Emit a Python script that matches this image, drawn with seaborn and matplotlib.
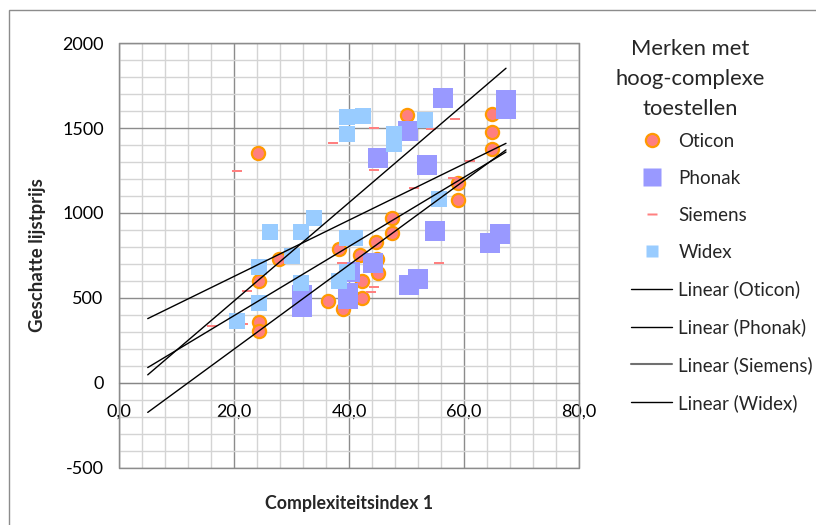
import numpy as np
import seaborn as sns
import matplotlib.pyplot as plt
from matplotlib.lines import Line2D
from matplotlib.markers import MarkerStyle
from matplotlib.path import Path
from matplotlib.patches import Rectangle
from matplotlib.ticker import FuncFormatter, MultipleLocator

# Data
oticon_x = [24.2, 24.3, 24.4, 24.4, 27.8, 36.4, 38.3, 39.0, 41.9, 42.3, 42.3,
            44.7, 44.8, 45.1, 47.4, 47.5, 50.0, 58.9, 58.9, 64.8, 64.8, 64.8]
oticon_y = [1351, 602, 355, 306, 729, 483, 785, 436, 753, 600, 498,
            831, 728, 645, 884, 970, 1578, 1178, 1076, 1582, 1478, 1380]

phonak_x = [31.9, 31.9, 39.9, 39.9, 40.2, 44.1, 45.1, 50.3, 50.5, 52.0, 53.5,
            54.9, 56.4, 64.5, 66.3, 67.3, 67.3]
phonak_y = [516, 447, 528, 492, 655, 708, 1327, 1484, 575, 610, 1282,
            892, 1680, 822, 875, 1663, 1610]

siemens_x = [16.1, 20.6, 21.5, 22.2, 37.2, 38.7, 43.8, 44.3, 44.3, 44.3, 51.3,
             54.2, 55.7, 58.1, 58.4, 61.1]
siemens_y = [335, 1249, 343, 543, 1410, 706, 537, 566, 1253, 1498, 1149,
             1496, 704, 1204, 1553, 1306]

widex_x = [20.6, 24.4, 24.4, 26.3, 30.1, 31.7, 31.7, 33.9, 38.3, 39.6, 39.6,
           41.1, 39.6, 42.4, 39.6, 47.8, 47.8, 53.2, 55.6]
widex_y = [361, 684, 472, 886, 747, 886, 586, 969, 600, 655, 851,
           851, 1567, 1572, 1463, 1463, 1406, 1547, 1081]

trend_range = [5.0, 67.3]

sns.set_style("white")
plt.rcParams['font.family'] = ['Lato', 'DejaVu Sans']
plt.rcParams['axes.unicode_minus'] = False

fig, ax = plt.subplots(figsize=(8.16, 5.25), dpi=100)
fig.subplots_adjust(left=0.1458, right=0.7096, top=0.9175, bottom=0.1095)

dash = MarkerStyle(Path([(-1, -0.33), (1, -0.33), (1, 0.33), (-1, 0.33), (-1, -0.33)]))

sns.scatterplot(x=oticon_x, y=oticon_y, ax=ax, marker='o', s=90, color='#FF7F7F',
                edgecolor='#FF9900', linewidth=1.6, zorder=3)
sns.scatterplot(x=phonak_x, y=phonak_y, ax=ax, marker='s', s=228, color='#9999FF',
                linewidth=0, zorder=4)
sns.scatterplot(x=siemens_x, y=siemens_y, ax=ax, marker=dash, s=42, color='#FF8080',
                linewidth=0, zorder=5)
sns.scatterplot(x=widex_x, y=widex_y, ax=ax, marker='s', s=117, color='#99CCFF',
                linewidth=0, zorder=6)

# linear trend lines
tx = np.array(trend_range)
series = [(oticon_x, oticon_y), (phonak_x, phonak_y),
          (siemens_x, siemens_y), (widex_x, widex_y)]
for xs, ys in series:
    k, b = np.polyfit(xs, ys, 1)
    ax.plot(tx, k * tx + b, color='black', lw=1, zorder=7)

ax.set_xlim(0, 80)
ax.set_ylim(-500, 2000)
ax.xaxis.set_major_locator(MultipleLocator(20))
ax.xaxis.set_minor_locator(MultipleLocator(4))
ax.yaxis.set_major_locator(MultipleLocator(500))
ax.yaxis.set_minor_locator(MultipleLocator(100))
ax.xaxis.set_major_formatter(FuncFormatter(lambda v, p: f"{v:.1f}".replace('.', ',')))
ax.grid(which='major', color='#8c8c8c', lw=1)
ax.grid(which='minor', color='#d4d4d4', lw=1)
ax.set_axisbelow(True)

for s in ['top', 'right', 'left']:
    ax.spines[s].set_color('#8c8c8c')
ax.spines['bottom'].set_position(('data', 0))
ax.spines['bottom'].set_color('#868686')
ax.add_patch(Rectangle((0, 0), 1, 1, transform=ax.transAxes, fill=False,
                       edgecolor='#8c8c8c', lw=1, zorder=1, clip_on=False))

ax.tick_params(axis='x', which='major', direction='out', length=4, pad=11,
               color='#868686', labelsize=13, labelcolor='black')
ax.tick_params(axis='y', which='major', direction='out', length=4, pad=7,
               color='#868686', labelsize=13, labelcolor='black')
ax.tick_params(which='minor', length=0)

ax.set_xlabel('Complexiteitsindex 1', fontsize=12.8, fontweight='bold')
ax.xaxis.label.set_va('center')
ax.xaxis.set_label_coords(0.5, -0.085)
ax.set_ylabel('Geschatte lijstprijs', fontsize=13.4, fontweight='bold')
ax.yaxis.label.set_va('center')
ax.yaxis.set_label_coords(-0.178, 0.5)

# outer chart border
fig.add_artist(Rectangle((0.011, -0.1), 1.2, 1.081, transform=fig.transFigure,
                         fill=False, edgecolor='#8c8c8c', lw=1))

fig.text(690 / 816, 1 - 79 / 525, 'Merken met\nhoog-complexe\ntoestellen',
         ha='center', va='center', fontsize=15.8, linespacing=1.62)

handles = [
    Line2D([], [], ls='none', marker='o', ms=9.5, mfc='#FF7F7F', mec='#FF9900', mew=1.6),
    Line2D([], [], ls='none', marker='s', ms=12.5, mfc='#9999FF', mec='none'),
    Line2D([], [], ls='none', marker=dash, ms=6.5, mfc='#FF8080', mec='none'),
    Line2D([], [], ls='none', marker='s', ms=9, mfc='#99CCFF', mec='none'),
    Line2D([], [], color='black', lw=1),
    Line2D([], [], color='black', lw=1),
    Line2D([], [], color='#707070', lw=1.5),
    Line2D([], [], color='black', lw=1),
]
labels = ['Oticon', 'Phonak', 'Siemens', 'Widex',
          'Linear (Oticon)', 'Linear (Phonak)', 'Linear (Siemens)', 'Linear (Widex)']
fig.legend(handles, labels, loc='upper left', bbox_to_anchor=(631 / 816, 1 - 133 / 525),
           frameon=False, fontsize=13.5, handlelength=2.2, handletextpad=0.32,
           labelspacing=1.06, borderpad=0, borderaxespad=0)

plt.savefig('out.png', dpi=100)
